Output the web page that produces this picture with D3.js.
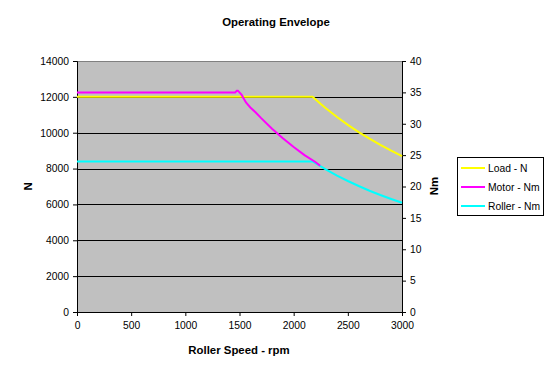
<!DOCTYPE html>
<html><head><meta charset="utf-8">
<script src="https://cdn.jsdelivr.net/npm/d3@7"></script>
<style>body{margin:0;background:#fff}svg{display:block;font-family:"Liberation Sans",Arial,sans-serif}</style>
</head><body><svg id="c" width="553" height="376"></svg>
<script>
const xTicks = [0,500,1000,1500,2000,2500,3000];
const leftTicks = [0,2000,4000,6000,8000,10000,12000,14000];
const rightTicks = [0,5,10,15,20,25,30,35,40];

const loadRpm = [0,2175,2250,2300,2400,2500,2600,2700,2800,2900,3000];
const loadN   = [12000,12000,11600,11348,10875,10440,10038,9667,9321,9000,8700];

const motorRpm = [0,1460,1475,1485,1500,1520,1540,1560,1600,1650,1700,1800,1900,2000,2100,2200,2245];
const motorNm  = [35,35,35.25,35.25,35.0,34.6,34.0,33.4,32.6,31.8,30.9,29.2,27.7,26.3,25.0,23.9,23.3];

const rollerRpm = [0,2175,2250,2300,2400,2500,2600,2700,2800,2900,3000];
const rollerNm  = [24,24,23.2,22.7,21.75,20.88,20.08,19.33,18.64,18.0,17.4];

const legendNames = ["Load - N","Motor - Nm","Roller - Nm"];
const colors = ["#FFFF00","#FF00FF","#00FFFF"];

const svg = d3.select("#c");
const L=77, R=402, T=61, B=312;
const x = d3.scaleLinear().domain([0,3000]).range([L,R]);
const yL = d3.scaleLinear().domain([0,14000]).range([B,T]);
const yR = d3.scaleLinear().domain([0,40]).range([B,T]);

svg.append("rect").attr("x",L).attr("y",T).attr("width",R-L).attr("height",B-T).attr("fill","#C0C0C0");
svg.append("line").attr("x1",L).attr("x2",R).attr("y1",T+0.5).attr("y2",T+0.5).attr("stroke","#808080");

// gridlines
svg.append("g").selectAll("line").data(leftTicks.filter(d=>d>0&&d<14000)).join("line")
  .attr("x1",L).attr("x2",R).attr("y1",d=>Math.round(yL(d))+0.5).attr("y2",d=>Math.round(yL(d))+0.5)
  .attr("stroke","#000").attr("stroke-width",1);

const fs = "10.3px";
const gl = svg.append("g").attr("transform",`translate(${L},0)`)
  .call(d3.axisLeft(yL).tickValues(leftTicks).tickSize(4).tickPadding(4).tickFormat(d3.format("d")));
const gr = svg.append("g").attr("transform",`translate(${R},0)`)
  .call(d3.axisRight(yR).tickValues(rightTicks).tickSize(4).tickPadding(4).tickFormat(d3.format("d")));
const gb = svg.append("g").attr("transform",`translate(0,${B})`)
  .call(d3.axisBottom(x).tickValues(xTicks).tickSize(4).tickPadding(6).tickFormat(d3.format("d")));
[gl,gr,gb].forEach(g=>{
  g.selectAll("text").attr("font-size",fs).attr("font-family","Liberation Sans, Arial, sans-serif").attr("fill","#000");
  g.select(".domain").attr("stroke","#000");
  g.selectAll(".tick line").attr("stroke","#000");
});

const lineL = d3.line().x(d=>x(d[0])).y(d=>yL(d[1]));
const lineR = d3.line().x(d=>x(d[0])).y(d=>yR(d[1]));
const g = svg.append("g").attr("fill","none").attr("stroke-width",2);
g.append("path").attr("d",lineL(d3.zip(loadRpm,loadN))).attr("stroke",colors[0]);
g.append("path").attr("d",lineR(d3.zip(rollerRpm,rollerNm))).attr("stroke",colors[2]);
g.append("path").attr("d",lineR(d3.zip(motorRpm,motorNm))).attr("stroke",colors[1]);

svg.append("text").attr("x",276).attr("y",25.5).attr("text-anchor","middle")
  .attr("font-size","11.4px").attr("font-weight","bold").text("Operating Envelope");
svg.append("text").attr("x",239).attr("y",353.5).attr("text-anchor","middle")
  .attr("font-size","11.4px").attr("font-weight","bold").text("Roller Speed - rpm");
svg.append("text").attr("transform","translate(32,186.5) rotate(-90)").attr("text-anchor","middle")
  .attr("font-size","11.4px").attr("font-weight","bold").text("N");
svg.append("text").attr("transform","translate(438,186) rotate(-90)").attr("text-anchor","middle")
  .attr("font-size","11.4px").attr("font-weight","bold").text("Nm");

const lg = svg.append("g");
lg.append("rect").attr("x",457.5).attr("y",157.5).attr("width",86).attr("height",58)
  .attr("fill","#fff").attr("stroke","#000");
legendNames.forEach((n,i)=>{
  const yy = 168 + i*19;
  lg.append("line").attr("x1",461).attr("x2",485).attr("y1",yy).attr("y2",yy)
    .attr("stroke",colors[i]).attr("stroke-width",2);
  lg.append("text").attr("x",488).attr("y",yy+3.5).attr("font-size","10.3px").text(n);
});
</script></body></html>
